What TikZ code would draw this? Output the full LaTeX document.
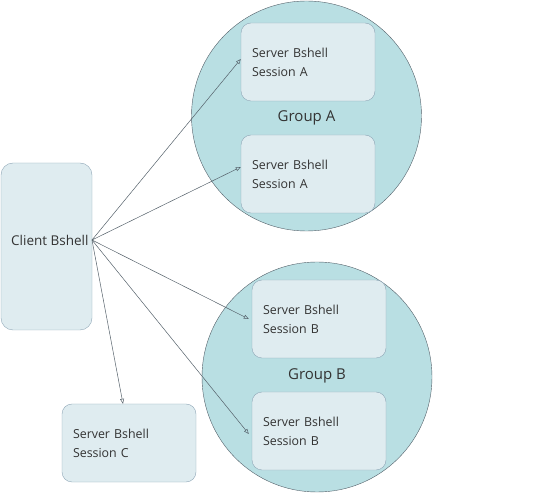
\documentclass[tikz,border=0pt]{standalone}
\usepackage{fontspec}
\setmainfont{Open Sans}
\usetikzlibrary{arrows.meta}

\definecolor{boxfill}{HTML}{DFECF0}
\definecolor{boxline}{HTML}{8FA6B6}
\definecolor{groupfill}{HTML}{B9DFE3}
\definecolor{groupline}{HTML}{55616A}
\definecolor{textgray}{HTML}{333333}

\tikzset{
  session/.style={draw=boxline, fill=boxfill, rounded corners=10pt,
                  minimum width=134pt, minimum height=78pt,
                  text width=112pt, align=left, inner sep=0pt,
                  font=\fontsize{12.4}{19}\selectfont, text=textgray},
  group/.style={draw=groupline, fill=groupfill, circle, minimum size=230pt, inner sep=0pt},
  grouplabel/.style={font=\fontsize{15}{17}\selectfont, text=textgray},
  link/.style={draw=groupline, line width=0.5pt, -{Triangle[open, length=5pt, width=4pt]}}
}

\begin{document}
\begin{tikzpicture}[x=1pt,y=-1pt]

   \useasboundingbox (0,0) rectangle (560,494);

   % Groups
   \node[group] (groupA) at (306.5,116) {};
   \node[group] (groupB) at (317,377) {};
   \node[grouplabel] (labelA) at (306.5,118) {Group A};
   \node[grouplabel] (labelB) at (317,376) {Group B};

   % Sessions
   \node[session] (sessA1) at (308,62)  {Server Bshell\\Session A};
   \node[session] (sessA2) at (308,174) {Server Bshell\\Session A};
   \node[session] (sessB1) at (319,319) {Server Bshell\\Session B};
   \node[session] (sessB2) at (319,431) {Server Bshell\\Session B};
   \node[session] (sessC)  at (129,443) {Server Bshell\\Session C};

   % Client
   \node[draw=boxline, fill=boxfill, rounded corners=12pt,
         minimum width=91pt, minimum height=167pt, inner sep=0pt]
        (client) at (46.5,246.5) {};
   \node[anchor=west, inner sep=0pt, font=\fontsize{13.5}{16}\selectfont, text=textgray]
        (clientlabel) at (11,240) {Client Bshell};
   \coordinate (src) at (92,240);

   % Links
   \draw[link] (src) -- ([yshift=3pt]sessA1.west);
   \draw[link] (src) -- ([yshift=7pt]sessA2.west);
   \draw[link] (src) -- ([xshift=-3pt]sessB1.west);
   \draw[link] (src) -- ([xshift=-3pt,yshift=-3pt]sessB2.west);
   \draw[link] (src) -- ([xshift=-6pt]sessC.north);

\end{tikzpicture}
\end{document}
